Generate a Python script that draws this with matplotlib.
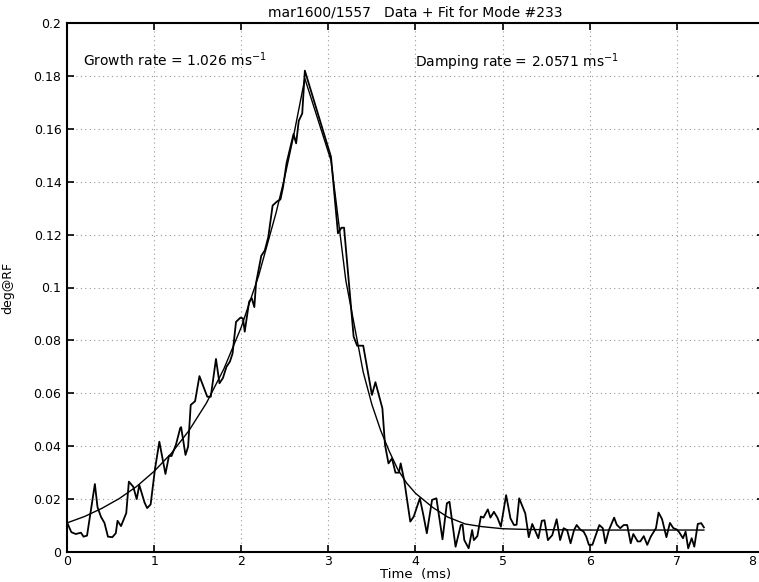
import numpy as np
import matplotlib
matplotlib.use("Agg")
import matplotlib.pyplot as plt
import matplotlib.transforms as mtransforms

#Données mesurées (temps en ms, amplitude en deg@RF)
temps = [0.00, 0.05, 0.10, 0.16, 0.19, 0.23, 0.32, 0.35, 0.39, 0.43, 0.47, 0.52, 0.56, 0.58,
         0.62, 0.68, 0.71, 0.76, 0.80, 0.83, 0.89, 0.92, 0.96, 1.01, 1.06, 1.13, 1.17, 1.20,
         1.25, 1.30, 1.31, 1.36, 1.39, 1.42, 1.47, 1.52, 1.61, 1.65, 1.71, 1.75, 1.79, 1.83,
         1.87, 1.90, 1.94, 1.99, 2.02, 2.04, 2.09, 2.12, 2.15, 2.17, 2.23, 2.27, 2.31, 2.36,
         2.41, 2.45, 2.48, 2.52, 2.60, 2.63, 2.66, 2.70, 2.73, 3.03, 3.11, 3.15, 3.18, 3.29,
         3.33, 3.40, 3.50, 3.54, 3.62, 3.65, 3.69, 3.73, 3.77, 3.81, 3.83, 3.87, 3.94, 3.98,
         4.05, 4.09, 4.13, 4.19, 4.24, 4.31, 4.36, 4.39, 4.46, 4.52, 4.54, 4.56, 4.61, 4.65,
         4.67, 4.71, 4.75, 4.78, 4.83, 4.86, 4.90, 4.94, 4.98, 5.04, 5.09, 5.13, 5.16, 5.19,
         5.26, 5.30, 5.34, 5.37, 5.41, 5.45, 5.48, 5.52, 5.57, 5.62, 5.66, 5.70, 5.74, 5.78,
         5.82, 5.85, 5.89, 5.93, 5.96, 5.99, 6.03, 6.07, 6.11, 6.15, 6.18, 6.22, 6.28, 6.31,
         6.35, 6.39, 6.43, 6.47, 6.50, 6.55, 6.58, 6.62, 6.66, 6.70, 6.76, 6.79, 6.83, 6.88,
         6.92, 6.96, 7.00, 7.03, 7.07, 7.10, 7.13, 7.17, 7.20, 7.24, 7.28, 7.31]
mesure = [0.0112, 0.0075, 0.0068, 0.0073, 0.0058, 0.0062, 0.0257, 0.0170, 0.0133, 0.0110, 0.0058,
          0.0056, 0.0071, 0.0118, 0.0098, 0.0147, 0.0266, 0.0247, 0.0200, 0.0253, 0.0187, 0.0166,
          0.0180, 0.0314, 0.0417, 0.0295, 0.0363, 0.0363, 0.0405, 0.0469, 0.0472, 0.0367, 0.0398,
          0.0556, 0.0570, 0.0665, 0.0587, 0.0587, 0.0730, 0.0638, 0.0658, 0.0700, 0.0720, 0.0750,
          0.0870, 0.0886, 0.0883, 0.0833, 0.0946, 0.0960, 0.0926, 0.1017, 0.1120, 0.1140, 0.1190,
          0.1310, 0.1325, 0.1333, 0.1380, 0.1470, 0.1580, 0.1545, 0.1630, 0.1658, 0.1820, 0.1494,
          0.1205, 0.1226, 0.1226, 0.0814, 0.0780, 0.0780, 0.0594, 0.0642, 0.0543, 0.0405, 0.0335,
          0.0354, 0.0300, 0.0300, 0.0335, 0.0272, 0.0115, 0.0134, 0.0203, 0.0140, 0.0071, 0.0197,
          0.0203, 0.0048, 0.0184, 0.0190, 0.0020, 0.0102, 0.0103, 0.0045, 0.0014, 0.0083, 0.0045,
          0.0060, 0.0134, 0.0130, 0.0161, 0.0130, 0.0152, 0.0130, 0.0096, 0.0215, 0.0127, 0.0102,
          0.0103, 0.0203, 0.0146, 0.0056, 0.0106, 0.0083, 0.0052, 0.0118, 0.0120, 0.0045, 0.0064,
          0.0124, 0.0045, 0.0090, 0.0083, 0.0033, 0.0083, 0.0102, 0.0085, 0.0077, 0.0058, 0.0027,
          0.0027, 0.0064, 0.0102, 0.0090, 0.0033, 0.0083, 0.0130, 0.0103, 0.0090, 0.0102, 0.0102,
          0.0033, 0.0068, 0.0040, 0.0040, 0.0060, 0.0027, 0.0058, 0.0090, 0.0149, 0.0124, 0.0056,
          0.0110, 0.0090, 0.0085, 0.0073, 0.0052, 0.0077, 0.0014, 0.0052, 0.0020, 0.0106, 0.0109,
          0.0093]

#Courbe ajustée (croissance puis amortissement)
temps_fit = [0.0, 0.2, 0.4, 0.6, 0.8, 1.0, 1.2, 1.4, 1.6, 1.8, 2.0, 2.2, 2.4, 2.5, 2.6, 2.73,
             3.03, 3.2, 3.4, 3.5, 3.6, 3.7, 3.8, 3.9, 4.0, 4.1, 4.2, 4.37, 4.57, 4.76, 5.0, 5.3,
             5.6, 6.0, 6.5, 7.0, 7.31]
fit = [0.0110, 0.0134, 0.0165, 0.0202, 0.0248, 0.0305, 0.0374, 0.0459, 0.0563, 0.0692, 0.0850,
       0.1045, 0.1283, 0.1419, 0.1572, 0.1790, 0.1480, 0.1027, 0.0680, 0.0557, 0.0460, 0.0380,
       0.0310, 0.0260, 0.0222, 0.0195, 0.0168, 0.0132, 0.0106, 0.0096, 0.0088, 0.0085, 0.0084,
       0.0083, 0.0083, 0.0083, 0.0083]

xticks = [0, 1, 2, 3, 4, 5, 6, 7, 8]
yticks = [0, 0.02, 0.04, 0.06, 0.08, 0.1, 0.12, 0.14, 0.16, 0.18, 0.2]
ylabels = ["0", "0.02", "0.04", "0.06", "0.08", "0.1", "0.12", "0.14", "0.16", "0.18", "0.2"]

plt.rcParams['font.family'] = ['DejaVu Sans']

fig = plt.figure(figsize=(7.59, 5.82), dpi=100)
ax = fig.add_axes([67 / 759, 30 / 582, 697 / 759, 529 / 582])

ax.plot(temps, mesure, color='black', linewidth=1.3)
ax.plot(temps_fit, fit, color='black', linewidth=1.0)

ax.set_xlim(0, 8)
ax.set_ylim(0, 0.2)
ax.set_xticks(xticks)
ax.set_yticks(yticks)
ax.set_yticklabels(ylabels)
ax.tick_params(direction='in', length=5, width=1.2, top=True, right=True,
               labelsize=9)
ax.tick_params(axis='x', pad=2)
ax.tick_params(axis='y', pad=4)
for s in ax.spines.values():
    s.set_linewidth(1.5)

#le dernier label (8) est au bord de l'image : on le décale un peu vers la gauche
lab8 = ax.get_xticklabels()[-1]
lab8.set_horizontalalignment('right')
lab8.set_transform(lab8.get_transform() +
                   mtransforms.ScaledTranslation(-8 / 100, 0, fig.dpi_scale_trans))

ax.grid(True, color='#999999', linestyle=(0, (1, 3)), linewidth=0.8)

ax.set_title("mar1600/1557   Data + Fit for Mode #233", fontsize=10, pad=5)
ax.set_xlabel("Time  (ms)", fontsize=9.5)
ax.set_ylabel("deg@RF", fontsize=9)
ax.xaxis.set_label_coords(0.5, -0.03)
ax.yaxis.set_label_coords(-0.075, 0.5)

ax.text(0.18, 0.186, "Growth rate = 1.026 ms$^{-1}$", fontsize=10, va='center')
ax.text(4.0, 0.185, "Damping rate = 2.0571 ms$^{-1}$", fontsize=10, va='center')

fig.savefig("out.png", dpi=100)
